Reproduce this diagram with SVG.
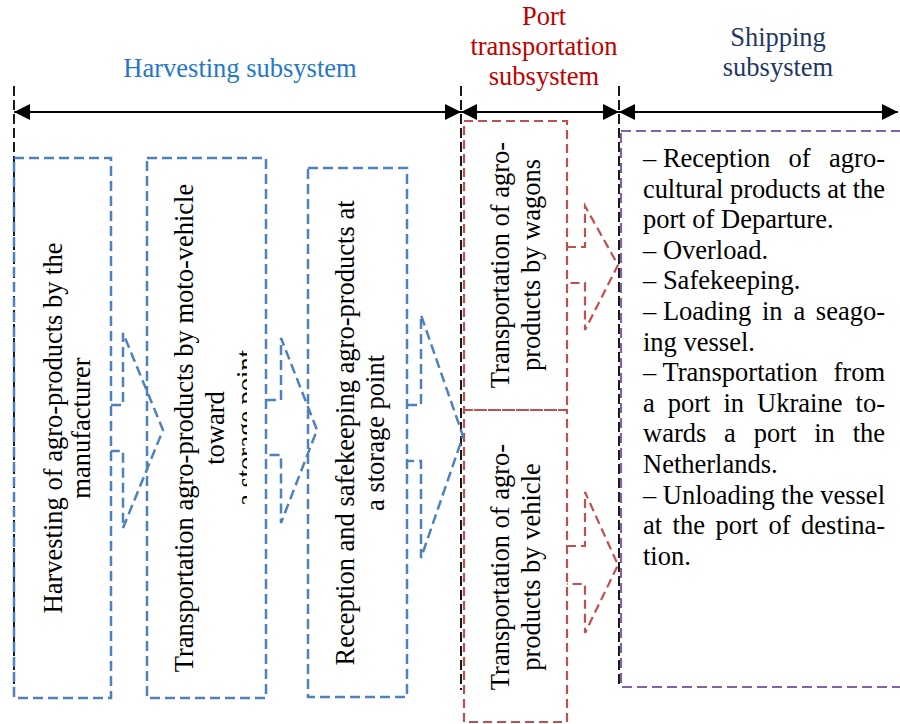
<svg xmlns="http://www.w3.org/2000/svg" width="900" height="724" viewBox="0 0 900 724">
<defs>
<style>
text{font-family:"Liberation Serif","Times New Roman",serif;font-size:26.5px;fill:#000}
.ttl{text-anchor:middle}
.vl{text-anchor:middle}
.blue{fill:none;stroke:#4F81BD;stroke-width:2.5;stroke-dasharray:10 5}
.red{fill:none;stroke:#C0504D;stroke-width:2.2;stroke-dasharray:9 5}
.purple{fill:none;stroke:#8064A2;stroke-width:2.2;stroke-dasharray:10 5}
.guide{fill:none;stroke:#000;stroke-width:1.8;stroke-dasharray:10 4}
.dim{fill:none;stroke:#000;stroke-width:2.2;marker-start:url(#ah);marker-end:url(#ah)}
</style>
<marker id="ah" markerUnits="userSpaceOnUse" markerWidth="17" markerHeight="17" refX="16" refY="8" orient="auto-start-reverse">
<path d="M0,0 L16,8 L0,16 z" fill="#000"/>
</marker>
<clipPath id="clip2"><rect x="140" y="150" width="107" height="560"/></clipPath>
</defs>
<rect width="900" height="724" fill="#fff"/>

<g id="titles">
<text class="ttl" x="240" y="77" style="fill:#2378C8">Harvesting subsystem</text>
<text class="ttl" x="544" y="25" style="fill:#C00000">Port</text>
<text class="ttl" x="544" y="55" style="fill:#C00000">transportation</text>
<text class="ttl" x="544" y="85" style="fill:#C00000">subsystem</text>
<text class="ttl" x="778" y="46" style="fill:#1F3864">Shipping</text>
<text class="ttl" x="778" y="76" style="fill:#1F3864">subsystem</text>
</g>

<g id="guides">
<line class="guide" x1="14" y1="86" x2="14" y2="690"/>
<line class="guide" x1="461" y1="86" x2="461" y2="690"/>
<line class="guide" x1="619" y1="86" x2="619" y2="688"/>
</g>

<g id="harvest">
<rect class="blue" x="14" y="158" width="97" height="540"/>
<text class="vl" transform="translate(62,428) rotate(-90)">Harvesting of agro-products by the</text>
<text class="vl" transform="translate(90,428) rotate(-90)">manufacturer</text>
</g>

<g id="moto">
<rect class="blue" x="147" y="158" width="119" height="540"/>
<g clip-path="url(#clip2)">
<text class="vl" transform="translate(193,428) rotate(-90)">Transportation agro-products by moto-vehicle</text>
<text class="vl" transform="translate(224,428) rotate(-90)">toward</text>
<text class="vl" transform="translate(255,428) rotate(-90)">a storage point</text>
</g>
</g>

<g id="storage">
<rect class="blue" x="308" y="168" width="99" height="529"/>
<text class="vl" transform="translate(354,433) rotate(-90)">Reception and safekeeping agro-products at</text>
<text class="vl" transform="translate(384,433) rotate(-90)">a storage point</text>
</g>

<g id="wagons">
<rect class="red" x="464" y="121" width="103" height="289"/>
<text class="vl" transform="translate(509,265) rotate(-90)">Transportation of agro-</text>
<text class="vl" transform="translate(540,265) rotate(-90)">products by wagons</text>
</g>

<g id="vehicle">
<rect class="red" x="464" y="410" width="103" height="312"/>
<text class="vl" transform="translate(509,567) rotate(-90)">Transportation of agro-</text>
<text class="vl" transform="translate(540,567) rotate(-90)">products by vehicle</text>
</g>

<g id="shipping">
<rect class="purple" x="621" y="131" width="290" height="556"/>
<text y="167"><tspan x="643">– Reception</tspan><tspan x="788.6">of</tspan><tspan x="885" text-anchor="end">agro-</tspan></text>
<text x="643" y="197.6" textLength="242" lengthAdjust="spacing">cultural products at the</text>
<text x="643" y="228.2">port of Departure.</text>
<text x="643" y="258.8">– Overload.</text>
<text x="643" y="289.4">– Safekeeping.</text>
<text y="320"><tspan x="643">– Loading</tspan><tspan x="762">in</tspan><tspan x="793.4">a</tspan><tspan x="885" text-anchor="end">seago-</tspan></text>
<text x="643" y="350.6">ing vessel.</text>
<text y="381.2"><tspan x="643">– Transportation</tspan><tspan x="885" text-anchor="end">from</tspan></text>
<text y="411.8"><tspan x="643">a</tspan><tspan x="667.8">port</tspan><tspan x="723.5">in</tspan><tspan x="757.1">Ukraine</tspan><tspan x="885" text-anchor="end">to-</tspan></text>
<text y="442.4"><tspan x="643">wards</tspan><tspan x="724.1">a</tspan><tspan x="753.7">port</tspan><tspan x="814.2">in</tspan><tspan x="885" text-anchor="end">the</tspan></text>
<text x="643" y="473">Netherlands.</text>
<text x="643" y="503.6" textLength="242" lengthAdjust="spacing">– Unloading the vessel</text>
<text y="534.2"><tspan x="643">at</tspan><tspan x="672.6">the</tspan><tspan x="715.4">port</tspan><tspan x="768.6">of</tspan><tspan x="885" text-anchor="end">destina-</tspan></text>
<text x="643" y="564.8">tion.</text>
</g>

<g id="connectors">
<line class="dim" x1="14" y1="112" x2="461" y2="112"/>
<line class="dim" x1="461" y1="112" x2="619" y2="112"/>
<line class="dim" x1="619" y1="112" x2="898" y2="112"/>
<polyline class="blue" points="111,405 123,405 123,333 163,430 123,528 123,451 111,451"/>
<polyline class="blue" points="266,400 281,400 281,338 317,430 281,523 281,455 266,455"/>
<polyline class="blue" points="407,405 421,405 421,315 463,436 421,558 421,461 407,461"/>
<polyline class="red" points="567,247 585,247 585,206 618,265 585,330 585,283 567,283"/>
<polyline class="red" points="567,546 585,546 585,492 618,565 585,633 585,584 567,584"/>
</g>
</svg>
